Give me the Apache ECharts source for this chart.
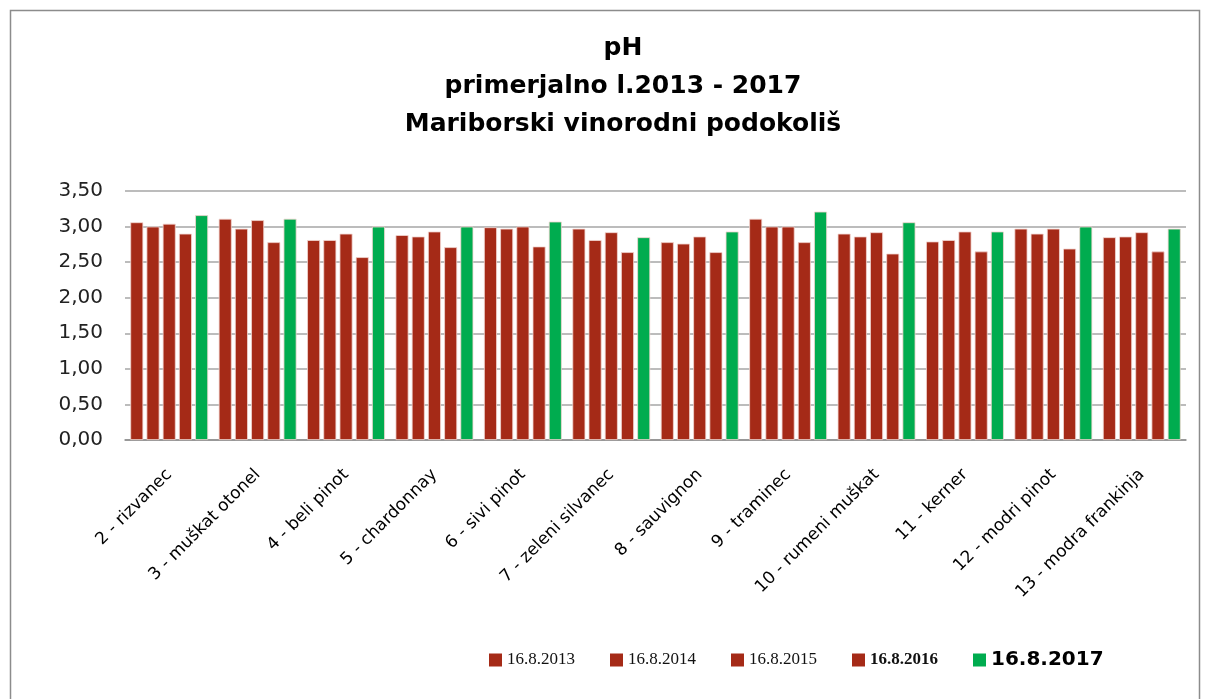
<!DOCTYPE html>
<html>
<head>
<meta charset="utf-8">
<script src="https://cdn.jsdelivr.net/npm/echarts@6/dist/echarts.min.js"></script>
<style>
  html, body { margin: 0; padding: 0; background: #fff; }
  #chart { width: 1206px; height: 699px; }
</style>
</head>
<body>
<div id="chart"></div>
<script>
const categories = [
  '2 - rizvanec', '3 - muškat otonel', '4 - beli pinot', '5 - chardonnay',
  '6 - sivi pinot', '7 - zeleni silvanec', '8 - sauvignon', '9 - traminec',
  '10 - rumeni muškat', '11 - kerner', '12 - modri pinot', '13 - modra frankinja'
]
const y2013 = [3.06, 3.11, 2.81, 2.88, 2.99, 2.97, 2.78, 3.11, 2.90, 2.79, 2.97, 2.85]
const y2014 = [3.00, 2.97, 2.81, 2.86, 2.97, 2.81, 2.76, 3.00, 2.86, 2.81, 2.90, 2.86]
const y2015 = [3.04, 3.09, 2.90, 2.93, 3.00, 2.92, 2.86, 3.00, 2.92, 2.93, 2.97, 2.92]
const y2016 = [2.90, 2.78, 2.57, 2.71, 2.72, 2.64, 2.64, 2.78, 2.62, 2.65, 2.69, 2.65]
const y2017 = [3.16, 3.11, 3.00, 3.00, 3.07, 2.85, 2.93, 3.21, 3.06, 2.93, 3.00, 2.97]
const seriesNames = ['16.8.2013', '16.8.2014', '16.8.2015', '16.8.2016', '16.8.2017']
const yTicks = [0, 0.5, 1, 1.5, 2, 2.5, 3, 3.5]

const RED = '#a52a17'
const GREEN = '#00ac4f'
const sans = '"DejaVu Sans", Verdana, sans-serif'
const serif = '"Liberation Serif", "DejaVu Serif", serif'

const chart = echarts.init(document.getElementById('chart'))

const seriesData = [y2013, y2014, y2015, y2016, y2017]
const colors = [RED, RED, RED, RED, GREEN]

chart.setOption({
  backgroundColor: '#fff',
  animation: false,
  graphic: [{
    type: 'rect',
    shape: { x: 10.5, y: 10.5, width: 1189, height: 700 },
    style: { fill: 'none', stroke: '#8c8c8c', lineWidth: 1.5 },
    z: -1
  }],
  title: {
    text: 'pH\nprimerjalno l.2013 - 2017\nMariborski vinorodni podokoliš',
    left: 618,
    top: 24,
    textAlign: 'center',
    textStyle: {
      fontFamily: sans,
      fontWeight: 'bold',
      fontSize: 25,
      lineHeight: 38,
      color: '#000'
    }
  },
  grid: { left: 125, right: 20, top: 191, bottom: 259 },
  legend: {
    bottom: 24,
    left: 484,
    itemWidth: 13,
    itemHeight: 13,
    itemGap: 35,
    icon: 'rect',
    itemStyle: { borderWidth: 0 },
    data: seriesNames.map((n, i) => ({
      name: n,
      textStyle: i === 4
        ? { fontFamily: sans, fontWeight: 'bold', fontSize: 20, color: '#000' }
        : { fontFamily: serif, fontSize: 17,
            fontWeight: i === 3 ? 'bold' : 'normal', color: '#111' }
    }))
  },
  xAxis: {
    type: 'category',
    data: categories,
    axisTick: { show: false },
    axisLine: { lineStyle: { color: '#8c8c8c', width: 1.5 } },
    axisLabel: {
      interval: 0,
      rotate: 45,
      margin: 32,
      fontFamily: sans,
      fontSize: 17,
      color: '#000'
    }
  },
  yAxis: {
    type: 'value',
    min: yTicks[0],
    max: yTicks[yTicks.length - 1],
    interval: 0.5,
    axisLine: { show: false },
    axisTick: { show: false },
    axisLabel: {
      fontFamily: sans,
      fontSize: 20,
      color: '#222',
      margin: 22,
      formatter: v => v.toFixed(2).replace('.', ',')
    },
    splitLine: { lineStyle: { color: '#a6a6a6', width: 1.5 } }
  },
  series: seriesData.map((d, i) => ({
    name: seriesNames[i],
    type: 'bar',
    data: d,
    barGap: '25%',
    barCategoryGap: '12%',
    itemStyle: { color: colors[i], borderColor: '#f3d6d0', borderWidth: 0.8 }
  }))
})
</script>
</body>
</html>
